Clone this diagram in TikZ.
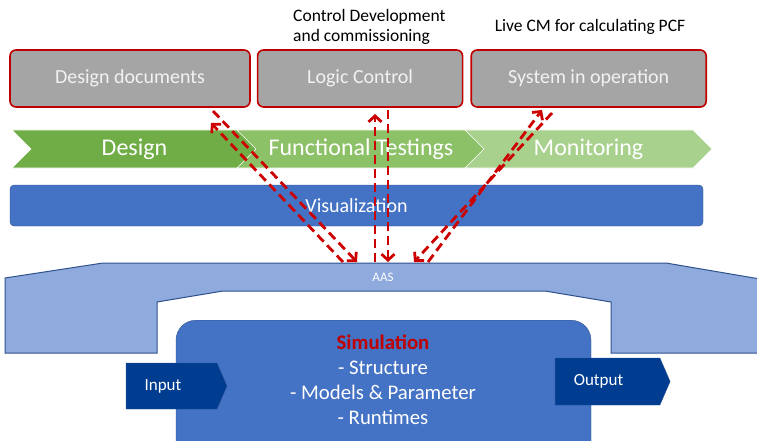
\documentclass[tikz,border=0pt]{standalone}
\usepackage{fontspec}
\setmainfont{Carlito}
\usetikzlibrary{positioning,shapes.symbols,arrows.meta}
\definecolor{boxGray}{RGB}{165,165,165}
\definecolor{boxRed}{RGB}{192,0,0}
\definecolor{designGreen}{RGB}{112,173,71}
\definecolor{testGreen}{RGB}{140,193,104}
\definecolor{monitorGreen}{RGB}{169,209,142}
\definecolor{vizBlue}{RGB}{68,114,196}
\definecolor{aasBlue}{RGB}{143,170,220}
\definecolor{edgeBlue}{RGB}{47,82,143}
\definecolor{ioBlue}{RGB}{0,61,145}
\definecolor{flowRed}{RGB}{204,0,0}

\begin{document}
\begin{tikzpicture}[x=1pt, y=-1pt, node distance=6pt,
  phase/.style={draw=boxRed, rounded corners=6pt, line width=1.6pt, fill=boxGray, text=white!95!black, minimum height=57pt, font=\fontsize{20}{24}\selectfont},
  stage/.style={signal, signal to=east, signal from=west, draw=white, line width=0.6pt, minimum height=38pt, text=white, inner sep=0pt, font=\fontsize{24}{28}\selectfont},
  note/.style={inner sep=0pt, font=\fontsize{17.5}{20.5}\selectfont},
  io/.style={signal, signal to=east, signal pointer angle=133, fill=ioBlue, draw=edgeBlue, inner sep=0pt},
  iotext/.style={text=white, inner sep=0pt, font=\fontsize{17}{20}\selectfont},
  flow/.style={draw=flowRed, line width=2.8pt, dash pattern=on 9pt off 5pt, -{Straight Barb[length=6pt,width=13pt]}}]
\useasboundingbox (0,0) rectangle (757,441);
\clip (0,0) rectangle (757,441);

% phases of the system
\node[phase, minimum width=240pt] (docs) at (130,78.5) {Design documents};
\node[phase, minimum width=205pt, right=6pt of docs] (logic) {Logic Control};
\node[phase, minimum width=235pt, right=7pt of logic] (sys) {System in operation};
\node[note, align=left, anchor=north west] (ctrlnote) at (293,9) {Control Development\\and commissioning};
\node[note] (livenote) at (590,27) {Live CM for calculating PCF};

% process chevrons
\node[stage, fill=designGreen, minimum width=245pt] (design) at (134.5,149) {Design};
\node[stage, fill=testGreen, minimum width=248pt] (testing) at (361,149) {Functional Testings};
\node[stage, fill=monitorGreen, minimum width=247pt] (monitor) at (588.5,149) {Monitoring};

\node[draw=edgeBlue, fill=vizBlue, rounded corners=4pt, minimum width=693pt, minimum height=41pt, text=white, font=\fontsize{20}{24}\selectfont] (viz) at (356.5,205.5) {Visualization};

% asset administration shell
\draw[fill=aasBlue, draw=edgeBlue, line width=1pt] (5,278) -- (103,263) -- (666,263) -- (760,279) -- (760,353) -- (611,353) -- (611,302) -- (545,291) -- (223,291) -- (157,302) -- (157,353) -- (5,353) -- cycle;
\node[text=white, font=\fontsize{13}{15}\selectfont] (aas) at (383,277) {AAS};

% simulation
\node[draw=edgeBlue, fill=vizBlue, rounded corners=20pt, minimum width=415pt, minimum height=150pt, anchor=north] (sim) at (383.5,320) {};
\node[align=center, text=white, inner sep=0pt, anchor=north, font=\fontsize{20.8}{24.8}\selectfont] (simtext) at (383,335) {\textcolor{boxRed}{\textbf{Simulation}}\\- Structure\\- Models \& Parameter\\- Runtimes};
\node[io, minimum width=101pt, minimum height=46pt] (in) at (171.5,386) {};
\node[iotext] (intext) at (163,386) {Input};
\node[io, minimum width=115pt, minimum height=47pt] (out) at (607.5,381.5) {};
\node[iotext] (outtext) at (598.5,381.5) {Output};

% data exchange
\coordinate (docs-up) at (211,123);
\coordinate (docs-dn) at (213,111);
\coordinate (logic-up) at (375,114);
\coordinate (logic-dn) at (388,110);
\coordinate (sys-up) at (542,110);
\coordinate (sys-dn) at (552,113);
\coordinate (aas-1) at (343,262);
\coordinate (aas-2) at (357,262);
\coordinate (aas-3) at (375,262);
\coordinate (aas-4) at (388,262);
\coordinate (aas-5) at (428,262);
\coordinate (aas-6) at (414,262);
\draw[flow] (aas-1) -- (docs-up);
\draw[flow] (docs-dn) -- (aas-2);
\draw[flow] (aas-3) -- (logic-up);
\draw[flow] (logic-dn) -- (aas-4);
\draw[flow] (aas-5) -- (sys-up);
\draw[flow] (sys-dn) -- (aas-6);
\end{tikzpicture}
\end{document}
